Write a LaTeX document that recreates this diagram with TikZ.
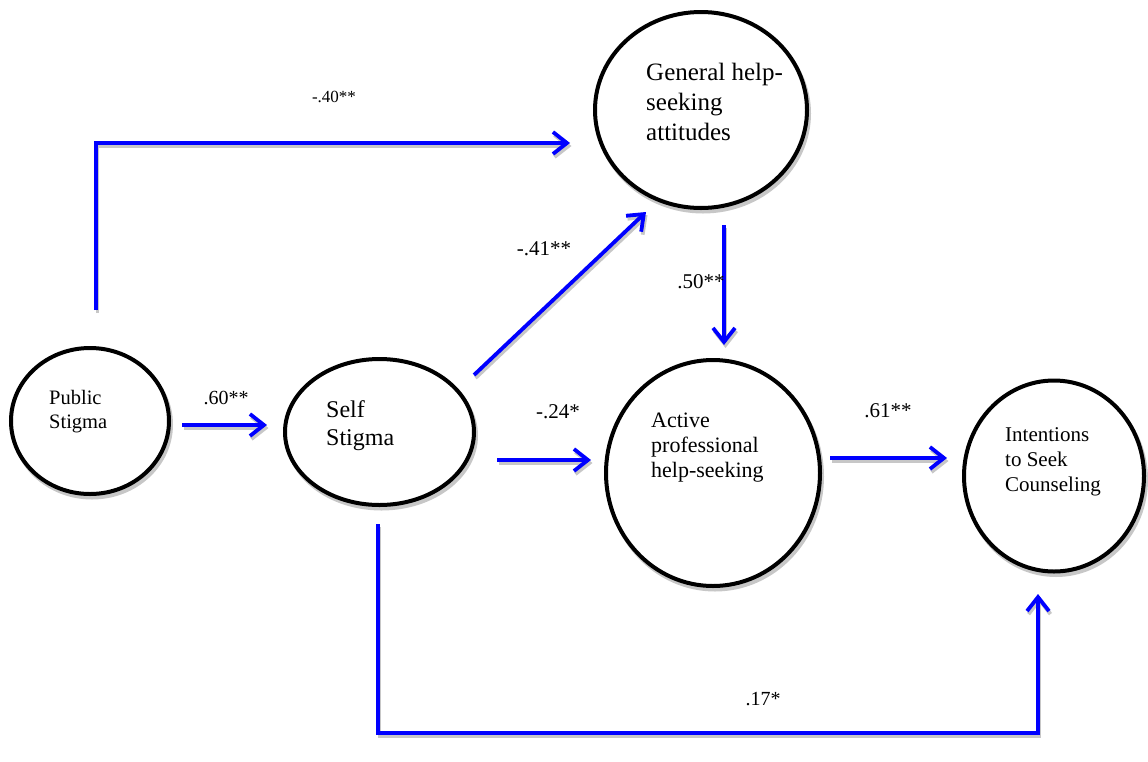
\documentclass[tikz,border=0pt]{standalone}
\usepackage{fontspec}
\setmainfont{Liberation Serif}
\usetikzlibrary{arrows.meta,shapes.geometric}
\begin{document}
\begin{tikzpicture}[x=1pt,y=-1pt,
  latent/.style={ellipse, draw=black, line width=4pt, fill=white, inner sep=0pt,
    preaction={draw=black!22, fill=black!22, line width=4pt,
      transform canvas={xshift=2pt,yshift=-3.5pt}}},
  vartext/.style={anchor=north west, inner sep=0pt, align=left},
  coef/.style={inner sep=0pt, font=\fontsize{21}{24}\selectfont},
  tip/.style={-{Straight Barb[length=14pt,width=22pt]}},
  conn/.style={draw=blue, line width=3.8pt, tip,
    preaction={draw=black!22, line width=3.8pt, tip,
      transform canvas={xshift=1.5pt,yshift=-3pt}}}]
  \useasboundingbox (0,0) rectangle (1148,761);

  % latent variables
  \node[latent, minimum width=158pt, minimum height=146pt] (pub) at (90,421) {};
  \node[latent, minimum width=189pt, minimum height=146pt] (self) at (379.5,432) {};
  \node[latent, minimum width=212pt, minimum height=196pt] (gen) at (701,110) {};
  \node[latent, minimum width=214pt, minimum height=226pt] (act) at (713,473) {};
  \node[latent, minimum width=180pt, minimum height=191pt] (int) at (1054,476) {};

  % variable names
  \node[vartext, font=\fontsize{20.5}{24}\selectfont] (pubT) at (49,390) {Public\\Stigma};
  \node[vartext, font=\fontsize{24}{28}\selectfont] (selfT) at (326,400.7) {Self\\Stigma};
  \node[vartext, font=\fontsize{25}{30}\selectfont] (genT) at (646,63) {General help-\\seeking\\attitudes};
  \node[vartext, font=\fontsize{22}{25}\selectfont] (actT) at (651,413) {Active\\professional\\help-seeking};
  \node[vartext, font=\fontsize{21}{25}\selectfont] (intT) at (1005,427.7) {Intentions\\to Seek\\Counseling};

  % path end points
  \coordinate (pubUp) at (96,310);
  \coordinate (pubCorner) at (96,143);
  \coordinate (genIn) at (570,143);
  \coordinate (pubOut) at (182,425);
  \coordinate (selfIn) at (267,425);
  \coordinate (selfUp) at (474,375);
  \coordinate (genLow) at (646,212);
  \coordinate (genOut) at (724,225);
  \coordinate (actTop) at (724,345);
  \coordinate (selfOut) at (497,460);
  \coordinate (actIn) at (591,460);
  \coordinate (actOut) at (830,458);
  \coordinate (intIn) at (947,458);
  \coordinate (selfDown) at (378,524);
  \coordinate (bottomL) at (378,733);
  \coordinate (bottomR) at (1038,733);
  \coordinate (intLow) at (1038,594);

  % paths
  \draw[conn] (pubUp) -- (pubCorner) -- (genIn);
  \draw[conn] (pubOut) -- (selfIn);
  \draw[conn] (selfUp) -- (genLow);
  \draw[conn] (genOut) -- (actTop);
  \draw[conn] (selfOut) -- (actIn);
  \draw[conn] (actOut) -- (intIn);
  \draw[conn] (selfDown) -- (bottomL) -- (bottomR) -- (intLow);

  % path coefficients
  \node[coef, font=\fontsize{17}{20}\selectfont] (c1) at (334,97) {-.40**};
  \node[coef, font=\fontsize{20}{24}\selectfont] (c2) at (226,398) {.60**};
  \node[coef] (c3) at (544,249) {-.41**};
  \node[coef] (c4) at (701,282) {.50**};
  \node[coef] (c5) at (558,412) {-.24*};
  \node[coef] (c6) at (888,411) {.61**};
  \node[coef, font=\fontsize{20}{24}\selectfont] (c7) at (763,699) {.17*};
\end{tikzpicture}
\end{document}
